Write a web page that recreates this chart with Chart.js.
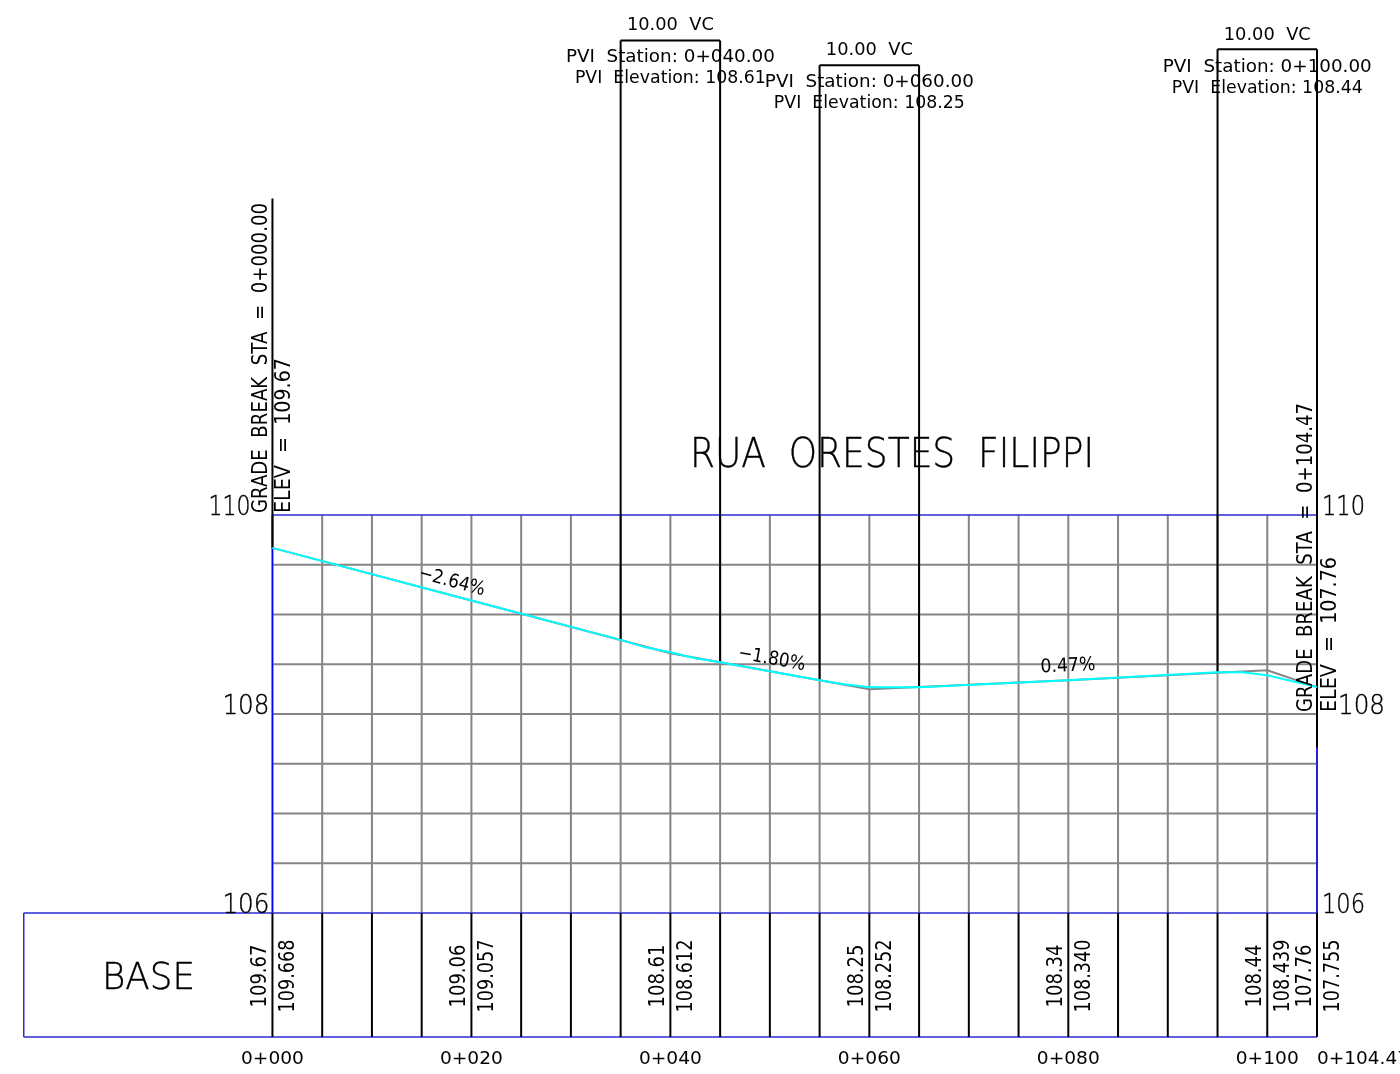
<!DOCTYPE html>
<html>
<head>
<meta charset="utf-8">
<title>RUA ORESTES FILIPPI</title>
<script src="https://cdn.jsdelivr.net/npm/chart.js@4"></script>
<style>
    html, body { margin: 0; padding: 0; background: #fff; overflow: hidden; }
    canvas { display: block; }
</style>
</head>
<body>
<canvas id="profile" width="1400" height="1074"></canvas>
<script>
// stations and elevations
const gridStations = [0, 5, 10, 15, 20, 25, 30, 35, 40, 45, 50, 55, 60, 65, 70, 75, 80, 85, 90, 95, 100, 105];
const gridElevations = [106.5, 107, 107.5, 108, 108.5, 109, 109.5];

const groundStations = [0, 20, 40, 60, 80, 100, 105];
const groundElevations = [109.67, 109.14, 108.61, 108.25, 108.34, 108.44, 108.27];

const designStations = [0, 20, 35, 37.5, 40, 42.5, 45, 55, 57.5, 60, 62.5, 65, 80, 95, 97.5, 100, 105];
const designElevations = [109.67, 109.14, 108.745, 108.67, 108.62, 108.56, 108.52, 108.34, 108.30, 108.27, 108.27, 108.27, 108.34, 108.42, 108.42, 108.39, 108.27];

// vertical curve boxes
const vcLeft = [35, 55, 95];
const vcRight = [45, 65, 105];
const vcCenter = [40, 60, 100];
const vcTop = [114.77, 114.52, 114.68];
const vcLeftBottom = [108.745, 108.34, 108.42];
const vcRightBottom = [108.52, 108.27, 107.66];
const vcLabels = ["10.00  VC", "10.00  VC", "10.00  VC"];
const pviStationLabels = ["PVI  Station: 0+040.00", "PVI  Station: 0+060.00", "PVI  Station: 0+100.00"];
const pviElevationLabels = ["PVI  Elevation: 108.61", "PVI  Elevation: 108.25", "PVI  Elevation: 108.44"];

// bottom table
const tableStations = [0, 20, 40, 60, 80, 100, 105];
const tableGround = ["109.67", "109.06", "108.61", "108.25", "108.34", "108.44", "107.76"];
const tableDesign = ["109.668", "109.057", "108.612", "108.252", "108.340", "108.439", "107.755"];
const stationLabels = ["0+000", "0+020", "0+040", "0+060", "0+080", "0+100"];
const lastStationLabel = "0+104.47";
const elevationTicks = [110, 108, 106];

const slopeLabels = ["−2.64%", "−1.80%", "0.47%"];
const slopeValues = [-2.64, -1.80, 0.47];
const slopeStations = [17.9, 50.1, 80];
const slopeElevations = [109.28, 108.50, 108.43];

const MIN_STATION = -27.387, MAX_STATION = 113.342;
const MIN_ELEV = 104.382, MAX_ELEV = 115.176;
const BASE_LEFT = -25, BASE_BOTTOM = 104.754;
const EXAGGERATION = 10;

const GREY = "#858585", BLUE = "#2a2ad6", PURE_BLUE = "#0000ff", BLACK = "#000000", CYAN = "#00ffff", INK = "#000000";
const FONT = '"DejaVu Sans"';

const datasets = [];

function addLine(xs, ys, color, width) {
    // first dataset is painted last, so later calls end up on top
    datasets.unshift({
        data: xs.map((x, i) => ({ x: x, y: ys[i] })),
        borderColor: color,
        borderWidth: width,
        showLine: true,
        pointRadius: 0,
        fill: false,
        tension: 0,
        clip: false
    });
}

gridElevations.forEach(e => addLine([0, 105], [e, e], GREY, 2));
gridStations.forEach(s => addLine([s, s], [106, 110], GREY, 2));

addLine([0, 105], [110, 110], BLUE, 1.5);
addLine([0, 0], [106, 110], PURE_BLUE, 1.5);
addLine([105, 105], [106, 107.66], PURE_BLUE, 1.5);
addLine([BASE_LEFT, 105], [106, 106], BLUE, 1.5);
addLine([BASE_LEFT, 105], [BASE_BOTTOM, BASE_BOTTOM], BLUE, 1.5);
addLine([BASE_LEFT, BASE_LEFT], [BASE_BOTTOM, 106], BLUE, 1.5);

gridStations.forEach(s => addLine([s, s], [BASE_BOTTOM, 106], BLACK, 2));

vcCenter.forEach((c, i) => {
    addLine([vcLeft[i], vcLeft[i]], [vcLeftBottom[i], vcTop[i]], BLACK, 2);
    addLine([vcRight[i], vcRight[i]], [vcRightBottom[i], vcTop[i]], BLACK, 2);
    addLine([vcLeft[i], vcRight[i]], [vcTop[i], vcTop[i]], BLACK, 2);
});
addLine([0, 0], [109.67, 113.18], BLACK, 2);

addLine(groundStations, groundElevations, GREY, 2);
addLine(designStations, designElevations, CYAN, 2);

// text squeezed to a measured width, the CAD font is narrower than anything installed
function putText(ctx, text, x, y, opts) {
    const o = Object.assign({ size: 18, align: "center", angle: 0, width: 0, weight: 400, outline: 0 }, opts);
    ctx.save();
    ctx.translate(x, y);
    ctx.rotate(o.angle);
    ctx.font = `${o.weight} ${o.size}px ${FONT}`;
    ctx.textBaseline = "alphabetic";
    ctx.textAlign = o.align;
    if (o.width) {
        ctx.scale(o.width / ctx.measureText(text).width, 1);
    }
    ctx.fillStyle = INK;
    ctx.fillText(text, 0, 0);
    if (o.outline) {
        // extra light face comes out too grey on its own
        ctx.strokeStyle = INK;
        ctx.lineWidth = o.outline;
        ctx.strokeText(text, 0, 0);
    }
    ctx.restore();
}

const profileText = {
    id: "profileText",
    afterDatasetsDraw(chart) {
        const ctx = chart.ctx;
        const sx = v => chart.scales.x.getPixelForValue(v);
        const sy = v => chart.scales.y.getPixelForValue(v);
        const up = -Math.PI / 2;

        putText(ctx, "RUA  ORESTES  FILIPPI", 892, 467, { size: 41, weight: 200, width: 404, outline: 0.4 });
        putText(ctx, "BASE", 148.5, 989, { size: 38, weight: 200, width: 93, outline: 0.4 });

        vcCenter.forEach((c, i) => {
            const top = sy(vcTop[i]) + (i === 2 ? 1 : 0);
            putText(ctx, vcLabels[i], sx(c), top - 10, { size: 18, width: 87 });
            putText(ctx, pviStationLabels[i], sx(c), top + 22, { size: 18, width: 209 });
            putText(ctx, pviElevationLabels[i], sx(c), top + 43, { size: 18, width: 191 });
        });

        // elevation ticks either side of the grid
        elevationTicks.forEach(t => {
            const gap = t === 110 ? 22 : 3;
            putText(ctx, String(t), sx(0) - gap, sy(t) + 0, { size: 27, weight: 200, align: "right", width: t === 110 ? 42 : 47, outline: 0.4 });
            const gapR = t === 108 ? 21 : 5;
            putText(ctx, String(t), sx(105) + gapR, sy(t) + 0, { size: 27, weight: 200, align: "left", width: t === 108 ? 47 : 43, outline: 0.4 });
        });

        stationLabels.forEach((l, i) => {
            putText(ctx, l, sx(tableStations[i]), 1064, { size: 18, width: 63 });
        });
        putText(ctx, lastStationLabel, sx(105), 1064, { size: 18, align: "left", width: 92 });

        tableStations.forEach((s, i) => {
            putText(ctx, tableGround[i], sx(s) - 6, 976, { size: 21, angle: up, width: 63 });
            putText(ctx, tableDesign[i], sx(s) + 22, 976, { size: 21, angle: up, width: 73 });
        });

        // grade break notes
        putText(ctx, "GRADE  BREAK  STA  =  0+000.00", sx(0) - 5, 513, { size: 21, angle: up, align: "left", width: 310 });
        putText(ctx, "ELEV  =  109.67", sx(0) + 18, 513, { size: 21, angle: up, align: "left", width: 155 });
        putText(ctx, "GRADE  BREAK  STA  =  0+104.47", sx(105) - 5, 712, { size: 21, angle: up, align: "left", width: 309 });
        putText(ctx, "ELEV  =  107.76", sx(105) + 19, 712, { size: 21, angle: up, align: "left", width: 155 });

        // slope notes follow the line, which is drawn at 10x vertical scale
        slopeLabels.forEach((l, i) => {
            const angle = Math.atan(-slopeValues[i] / 100 * EXAGGERATION);
            putText(ctx, l, sx(slopeStations[i]), sy(slopeElevations[i]), { size: 19, angle: angle, width: i === 2 ? 55 : 68 });
        });
    }
};

new Chart(document.getElementById("profile"), {
    type: "scatter",
    data: { datasets: datasets },
    plugins: [profileText],
    options: {
        responsive: false,
        animation: false,
        devicePixelRatio: 1,
        layout: { padding: 0 },
        plugins: { legend: { display: false }, tooltip: { enabled: false }, title: { display: false } },
        scales: {
            x: { type: "linear", display: false, min: MIN_STATION, max: MAX_STATION },
            y: { type: "linear", display: false, min: MIN_ELEV, max: MAX_ELEV }
        }
    }
});
</script>
</body>
</html>
